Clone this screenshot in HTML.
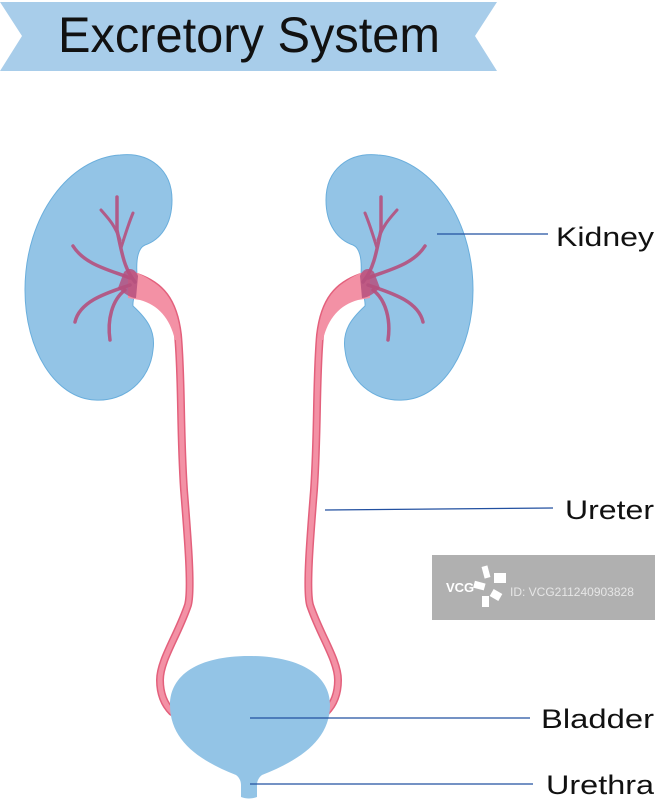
<!DOCTYPE html>
<html><head><meta charset="utf-8"><style>
html,body{margin:0;padding:0;background:#fff;}
svg{display:block;}
text{font-family:"Liberation Sans",sans-serif;}
</style></head><body>
<svg width="655" height="800" viewBox="0 0 655 800" xmlns="http://www.w3.org/2000/svg">
<polygon points="0,2 497,2 475,36 497,71 0,71 22,36" fill="#a8cdea"/>
<text x="58" y="52" font-size="50" fill="#111" textLength="382" lengthAdjust="spacingAndGlyphs">Excretory System</text>

<g id="kid">
<path d="M120,155 C150,152 172,170 172,200 C172,225 160,240 145,245 C138,248 136,260 137,275 C137,290 132,300 133,306 C146,318 156,330 153,350 C150,380 125,402 95,400 C55,398 25,350 25,290 C25,215 70,158 120,155 Z" fill="#93c4e6" stroke="#6aaedc" stroke-width="1"/>
<path d="M137,277 C160,285 174,300 178,335 C182,380 180,430 184,490 C188,540 192,590 188,605 C178,635 160,660 160,680 C160,695 165,705 172,712" fill="none" stroke="#e3607c" stroke-width="8" stroke-linecap="round"/>
<path d="M137,277 C160,285 174,300 178,335 C182,380 180,430 184,490 C188,540 192,590 188,605 C178,635 160,660 160,680 C160,695 165,705 172,712" fill="none" stroke="#f391a5" stroke-width="5" stroke-linecap="round"/>
<path d="M128,270 C150,276 168,290 176,318 L181,340 L175,340 C170,318 158,305 140,300 L128,298 Z" fill="#f391a5"/>
<g fill="none" stroke="#b5507e" stroke-linecap="round" opacity="0.9">
<path d="M135,282 C125,270 122,255 117,230 L117,197" stroke-width="3.5"/>
<path d="M120,240 C115,225 108,218 101,210" stroke-width="3"/>
<path d="M121,248 C125,235 128,225 133,213" stroke-width="3"/>
<path d="M130,278 C110,270 85,265 73,246" stroke-width="3.5"/>
<path d="M130,285 C110,292 80,300 75,322" stroke-width="3.5"/>
<path d="M125,290 C112,300 107,320 110,340" stroke-width="3.5"/>
</g>
<path d="M124,272 C130,266 136,270 138,276 L136,298 C130,298 122,292 118,288 Z" fill="#b5507e" opacity="0.85"/>
</g>
<use href="#kid" transform="translate(498,0) scale(-1,1)"/>

<path d="M249,656 C300,656 330,675 330,705 C330,740 300,760 262,775 C258,778 257,782 257,785 L257,797 C252,799 246,799 241,797 L241,785 C241,782 240,778 236,775 C198,760 170,740 170,705 C170,675 198,656 249,656 Z" fill="#93c4e6"/>

<g stroke="#2250a0" stroke-width="1.2">
<line x1="437" y1="234" x2="548" y2="234"/>
<line x1="325" y1="510" x2="553" y2="508"/>
<line x1="250" y1="718" x2="530" y2="718"/>
<line x1="250" y1="784" x2="533" y2="784"/>
</g>
<g font-size="27" fill="#111">
<text x="556" y="246" textLength="98" lengthAdjust="spacingAndGlyphs">Kidney</text>
<text x="565" y="519" textLength="89" lengthAdjust="spacingAndGlyphs">Ureter</text>
<text x="541" y="728" textLength="113" lengthAdjust="spacingAndGlyphs">Bladder</text>
<text x="546" y="794" textLength="108" lengthAdjust="spacingAndGlyphs">Urethra</text>
</g>

<rect x="432" y="555" width="223" height="65" fill="#b0b0b0"/>
<text x="446" y="592" font-size="13" font-weight="bold" fill="#fff">VCG</text>
<g fill="#fff">
<rect x="483" y="566" width="6" height="12" transform="rotate(-15 486 572)"/>
<rect x="494" y="573" width="12" height="10"/>
<rect x="474" y="582" width="11" height="7" transform="rotate(15 479 585)"/>
<rect x="491" y="591" width="10" height="8" transform="rotate(30 496 595)"/>
<rect x="482" y="596" width="7" height="11"/>
</g>
<text x="510" y="596" font-size="12" fill="#e6e6e6">ID: VCG211240903828</text>
</svg>
</body></html>
